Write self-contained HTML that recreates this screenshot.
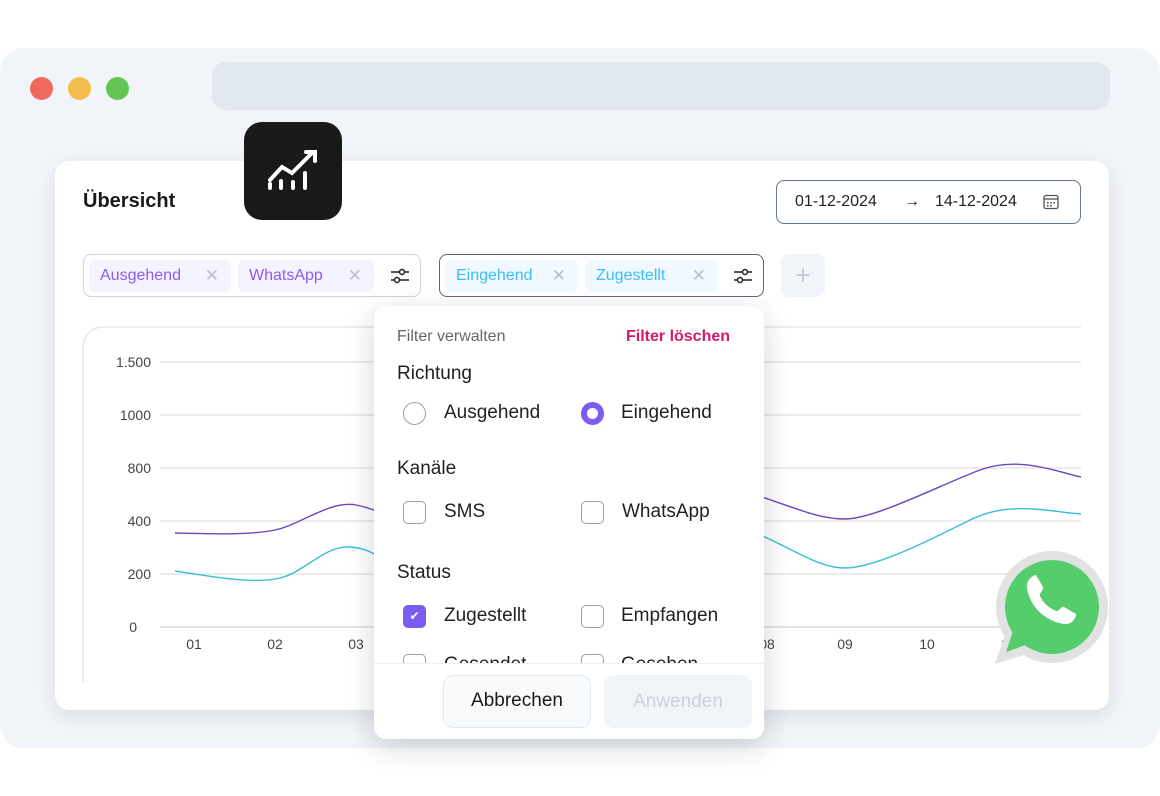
<!DOCTYPE html>
<html><head><meta charset="utf-8"><style>
*{margin:0;padding:0;box-sizing:border-box}
body{width:1160px;height:796px;background:#fff;position:relative;overflow:hidden;font-family:"Liberation Sans",sans-serif;color:#1e1e1e}
.a{position:absolute}
.frame{left:0;top:48px;width:1160px;height:700px;background:#f1f4f8;border-radius:24px}
.dot{width:23px;height:23px;border-radius:50%;top:77px}
.card{left:55px;top:161px;width:1054px;height:549px;background:#fff;border-radius:14px;box-shadow:0 6px 20px rgba(30,40,60,.10)}
.grp{top:254px;height:43px;border-radius:8px;border:1.5px solid #cbd5e1}
.chip{top:260px;height:32px;border-radius:6px;font-size:16px;line-height:32px;padding-left:11px}
.chip span{position:absolute;right:12px;top:0;color:#b8bec8;font-size:17px}
.pop{left:374px;top:306px;width:390px;height:433px;background:#fff;border-radius:12px;box-shadow:0 8px 28px rgba(20,30,50,.18);overflow:hidden}
.t{font-size:19px;color:#222}
.rb{width:23px;height:23px;border-radius:50%;border:1.5px solid #9aa0a8}
.cb{width:23px;height:23px;border-radius:5px;border:1.5px solid #9aa0a8}
</style></head><body>
<div class="a frame"></div>
<div class="a dot" style="left:30px;background:#ee6a5f"></div>
<div class="a dot" style="left:68px;background:#f4be4f"></div>
<div class="a dot" style="left:106px;background:#62c554"></div>
<div class="a" style="left:212px;top:62px;width:898px;height:48px;background:#e2e8f0;border-radius:14px"></div>
<div class="a card"></div>
<div class="a" style="left:83px;top:190px;font-size:20px;font-weight:bold;color:#1a1a1a">Übersicht</div>
<div class="a" style="left:244px;top:122px;width:98px;height:98px;background:#191919;border-radius:18px">
<svg width="98" height="98" viewBox="0 0 98 98"><g stroke="#fff" stroke-width="4" stroke-linecap="round" fill="none"><path d="M26 66v-4M37 66v-7M49 66v-6M61 66V51"/><path d="M26 58l12-13 10 6 21-21"/><path d="M62 30h9v9"/></g></svg></div>
<div class="a" style="left:776px;top:180px;width:305px;height:44px;border:1.5px solid #64748b;border-radius:8px;font-size:16px;line-height:41px;color:#222"><span class="a" style="left:18px">01-12-2024</span><span class="a" style="left:127px">→</span><span class="a" style="left:158px">14-12-2024</span>
<svg class="a" style="left:266px;top:13px" width="16" height="16"><rect x="1" y="1.5" width="14" height="13" rx="2" fill="none" stroke="#555" stroke-width="1.3"/><line x1="1" y1="5" x2="15" y2="5" stroke="#555" stroke-width="1.3"/><g fill="#555"><rect x="4" y="8" width="1.6" height="1.6"/><rect x="7.2" y="8" width="1.6" height="1.6"/><rect x="10.4" y="8" width="1.6" height="1.6"/><rect x="4" y="11" width="1.6" height="1.6"/><rect x="7.2" y="11" width="1.6" height="1.6"/></g></svg></div>
<div class="a grp" style="left:83px;width:338px"></div>
<div class="a chip" style="left:89px;width:142px;background:#f5f3ff;color:#8b5cf6">Ausgehend<span>✕</span></div>
<div class="a chip" style="left:238px;width:136px;background:#f5f3ff;color:#8b5cf6">WhatsApp<span>✕</span></div>
<div class="a grp" style="left:439px;width:325px;border-color:#5b6678"></div>
<div class="a chip" style="left:445px;width:133px;background:#f0f9ff;color:#38bdf8">Eingehend<span>✕</span></div>
<div class="a chip" style="left:585px;width:133px;background:#f0f9ff;color:#38bdf8">Zugestellt<span>✕</span></div>
<svg class="a" style="left:390px;top:266px" width="20" height="20"><g stroke="#222" stroke-width="1.5" fill="#fff"><line x1="1" y1="6" x2="19" y2="6"/><line x1="1" y1="14" x2="19" y2="14"/><circle cx="12" cy="6" r="2.5"/><circle cx="7" cy="14" r="2.5"/></g></svg>
<svg class="a" style="left:733px;top:266px" width="20" height="20"><g stroke="#222" stroke-width="1.5" fill="#fff"><line x1="1" y1="6" x2="19" y2="6"/><line x1="1" y1="14" x2="19" y2="14"/><circle cx="12" cy="6" r="2.5"/><circle cx="7" cy="14" r="2.5"/></g></svg>
<div class="a" style="left:781px;top:254px;width:44px;height:43px;background:#f1f5f9;border-radius:8px;color:#c3c9d2;font-size:26px;text-align:center;line-height:42px">+</div>
<svg class="a" style="left:0;top:0" width="1160" height="796">
<path d="M83 682V347a20 20 0 0 1 20-20H1081" fill="none" stroke="#e5e7eb" stroke-width="1.5"/>
<g stroke="#dde0e4" stroke-width="1.3"><line x1="160" y1="362" x2="1081" y2="362"/><line x1="160" y1="415" x2="1081" y2="415"/><line x1="160" y1="468" x2="1081" y2="468"/><line x1="160" y1="521" x2="1081" y2="521"/><line x1="160" y1="574" x2="1081" y2="574"/><line x1="160" y1="627" x2="1081" y2="627" stroke="#cfd3d8"/></g>
<g font-family="Liberation Sans" font-size="14" fill="#444" text-anchor="end"><text x="151" y="367">1.500</text><text x="151" y="420">1000</text><text x="151" y="473">800</text><text x="151" y="526">400</text><text x="151" y="579">200</text><text x="137" y="632">0</text></g>
<g font-family="Liberation Sans" font-size="14" fill="#444" text-anchor="middle"><text x="194" y="649">01</text><text x="275" y="649">02</text><text x="356" y="649">03</text><text x="767" y="649">08</text><text x="845" y="649">09</text><text x="927" y="649">10</text><text x="1008" y="649">11</text></g>
<path d="M175 533C220 534 250 535 275 530S330 500 356 505S390 520 400 525M740 490C790 505 815 519 845 519S940 485 980 470S1060 473 1081 477" fill="none" stroke="#6b46c1" stroke-width="1.4"/>
<path d="M175 571C220 578 255 584 280 578S325 545 350 547S380 560 395 568M740 527C790 545 815 568 845 568S930 540 970 520S1050 512 1081 514" fill="none" stroke="#38bdd8" stroke-width="1.4"/>
<polygon points="995,664 1010,620 1040,650" fill="#e2e2e2"/>
<circle cx="1052" cy="607" r="56" fill="#e2e2e2"/>
<polygon points="1006,652 1016,622 1034,642" fill="#55cd6c"/>
<circle cx="1052" cy="607" r="47" fill="#55cd6c"/>
<path d="M1027 588c-1-8 5-12 9-13l7 12c1 3-4 6-3 9 3 7 9 12 16 15 3 1 5-5 8-4l12 7c0 4-4 11-12 10-19-3-34-17-37-36z" fill="#fff"/>
</svg>
<div class="a pop">
<div class="a" style="left:23px;top:22px;font-size:16px;color:#666">Filter verwalten</div>
<div class="a" style="left:252px;top:22px;font-size:16px;color:#d6196e;font-weight:bold">Filter löschen</div>
<div class="a t" style="left:23px;top:57px">Richtung</div>
<div class="a rb" style="left:29px;top:96px"></div><div class="a t" style="left:70px;top:96px">Ausgehend</div>
<div class="a rb" style="left:207px;top:96px;border:6px solid #7c5cf0"></div><div class="a t" style="left:247px;top:96px">Eingehend</div>
<div class="a t" style="left:23px;top:152px">Kanäle</div>
<div class="a cb" style="left:29px;top:195px"></div><div class="a t" style="left:70px;top:195px">SMS</div>
<div class="a cb" style="left:207px;top:195px"></div><div class="a t" style="left:248px;top:195px">WhatsApp</div>
<div class="a t" style="left:23px;top:256px">Status</div>
<div class="a cb" style="left:29px;top:299px;background:#7c5cf0;border-color:#7c5cf0;color:#fff;font-size:12px;text-align:center;line-height:20px">✔</div><div class="a t" style="left:70px;top:299px">Zugestellt</div>
<div class="a cb" style="left:207px;top:299px"></div><div class="a t" style="left:247px;top:299px">Empfangen</div>
<div class="a cb" style="left:29px;top:348px"></div><div class="a t" style="left:70px;top:348px">Gesendet</div>
<div class="a cb" style="left:207px;top:348px"></div><div class="a t" style="left:247px;top:348px">Gesehen</div>
<div class="a" style="left:0;top:357px;width:390px;height:76px;background:#fff;border-top:1px solid #eceef1"></div>
<div class="a" style="left:69px;top:369px;width:148px;height:53px;border:1.5px solid #e2e8f0;border-radius:10px;background:#f8fafc;text-align:center;line-height:50px;font-size:19px;color:#1a1a1a">Abbrechen</div>
<div class="a" style="left:230px;top:369px;width:148px;height:53px;border-radius:10px;background:#f1f5f9;text-align:center;line-height:53px;font-size:19px;color:#cbd1da">Anwenden</div>
</div>
</body></html>
